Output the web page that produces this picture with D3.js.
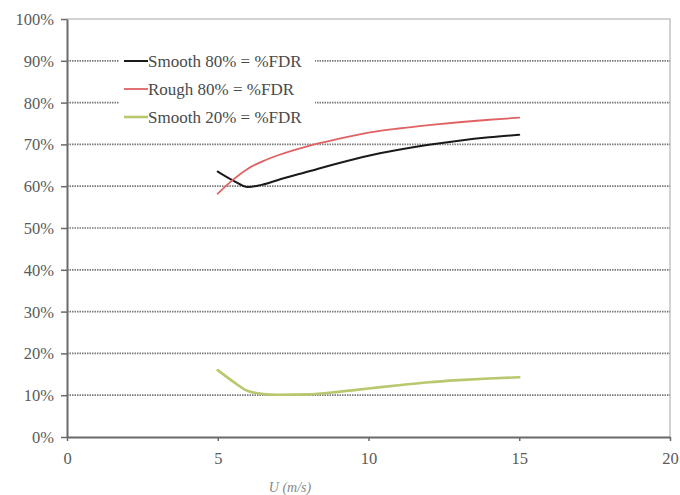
<!DOCTYPE html>
<html>
<head>
<meta charset="utf-8">
<script src="https://cdn.jsdelivr.net/npm/d3@7"></script>
<style>
  html, body { margin: 0; padding: 0; background: #fff; }
  svg { display: block; }
</style>
</head>
<body>
<svg id="chart" width="680" height="495"></svg>
<script>
// Wind speed U (m/s)
const speeds = [5, 5.5, 6, 6.5, 7, 8, 9, 10, 11, 12, 13, 14, 15];
// Share of %FDR for each surface / level
const smooth80 = [63.5, 61.4, 59.8, 60.4, 61.5, 63.5, 65.5, 67.3, 68.7, 69.9, 70.9, 71.7, 72.3];
const rough80  = [58.2, 61.5, 64.2, 66.0, 67.4, 69.6, 71.3, 72.8, 73.8, 74.6, 75.3, 75.9, 76.4];
const smooth20 = [16.0, 13.3, 11.0, 10.3, 10.1, 10.2, 10.8, 11.6, 12.4, 13.1, 13.6, 14.0, 14.3];

const seriesNames = ["Smooth 80% = %FDR", "Rough 80% = %FDR", "Smooth 20% = %FDR"];
const seriesColors = ["#1a1a1a", "#e06262", "#b9c86e"];
const xTicks = [0, 5, 10, 15, 20];
const yTicks = [0, 10, 20, 30, 40, 50, 60, 70, 80, 90, 100];

const svg = d3.select("#chart");
const plotLeft = 67, plotRight = 670, plotTop = 19, plotBottom = 437;

const x = d3.scaleLinear().domain([0, 20]).range([plotLeft, plotRight]);
const y = d3.scaleLinear().domain([0, 100]).range([plotBottom, plotTop]);

const font = "'Liberation Serif', 'Times New Roman', serif";

// plot frame (top and right)
svg.append("path")
  .attr("d", `M${plotLeft},${plotTop}H${plotRight}V${plotBottom}`)
  .attr("fill", "none").attr("stroke", "#c4c4c4").attr("stroke-width", 1.5);

// dotted horizontal gridlines
svg.append("g")
  .selectAll("line")
  .data(yTicks.filter(d => d > 0 && d < 100))
  .join("line")
  .attr("x1", plotLeft).attr("x2", plotRight)
  .attr("y1", d => y(d)).attr("y2", d => y(d))
  .attr("stroke", "#7a7a7a").attr("stroke-width", 1.7)
  .attr("stroke-dasharray", "1.5,1");

// y axis
const yAxis = svg.append("g")
  .attr("transform", `translate(${plotLeft},0)`)
  .call(d3.axisLeft(y).tickValues(yTicks).tickFormat(d => d + "%").tickSize(6).tickSizeOuter(0));
yAxis.select(".domain").attr("stroke", "#6a6a6a").attr("stroke-width", 2);
yAxis.selectAll(".tick line").attr("stroke", "#6a6a6a").attr("stroke-width", 1.5);
yAxis.selectAll(".tick text")
  .attr("x", -13).attr("dy", "0.33em")
  .attr("fill", "#5a5a5a").style("font-family", font).style("font-size", "16.5px");

// x axis
const xAxis = svg.append("g")
  .attr("transform", `translate(0,${plotBottom})`)
  .call(d3.axisBottom(x).tickValues(xTicks).tickFormat(d3.format("d")).tickSize(4).tickSizeOuter(0));
xAxis.select(".domain").attr("stroke", "#6a6a6a").attr("stroke-width", 2);
xAxis.selectAll(".tick line").attr("stroke", "#6a6a6a").attr("stroke-width", 1.5);
xAxis.selectAll(".tick text")
  .attr("y", 15).attr("dy", "0.71em")
  .attr("fill", "#5a5a5a").style("font-family", font).style("font-size", "16.5px");

// axis title
svg.append("text")
  .attr("x", 290).attr("y", 492)
  .attr("text-anchor", "middle")
  .attr("fill", "#888").style("font-family", font).style("font-style", "italic").style("font-size", "14px")
  .text("U (m/s)");

// series lines
const line = d3.line()
  .x((d, i) => x(speeds[i]))
  .y(d => y(d))
  .curve(d3.curveMonotoneX);

const allSeries = [smooth80, rough80, smooth20];
const widths = [2, 1.8, 2.6];
svg.append("g")
  .selectAll("path")
  .data(allSeries)
  .join("path")
  .attr("d", d => line(d))
  .attr("fill", "none")
  .attr("stroke", (d, i) => seriesColors[i])
  .attr("stroke-width", (d, i) => widths[i])
  .attr("stroke-linecap", "round");

// legend
const legend = svg.append("g").attr("transform", "translate(119,47)");
legend.append("rect").attr("width", 196).attr("height", 84).attr("fill", "#fff");
const rows = legend.selectAll("g.row")
  .data(seriesNames)
  .join("g")
  .attr("class", "row")
  .attr("transform", (d, i) => `translate(0,${14 + i * 28})`);
rows.append("line")
  .attr("x1", 5).attr("x2", 29)
  .attr("stroke", (d, i) => seriesColors[i])
  .attr("stroke-width", (d, i) => widths[i]);
rows.append("text")
  .attr("x", 29).attr("dy", "0.35em")
  .attr("fill", "#4a4a4a").style("font-family", font).style("font-size", "17px")
  .text(d => d);
</script>
</body>
</html>
